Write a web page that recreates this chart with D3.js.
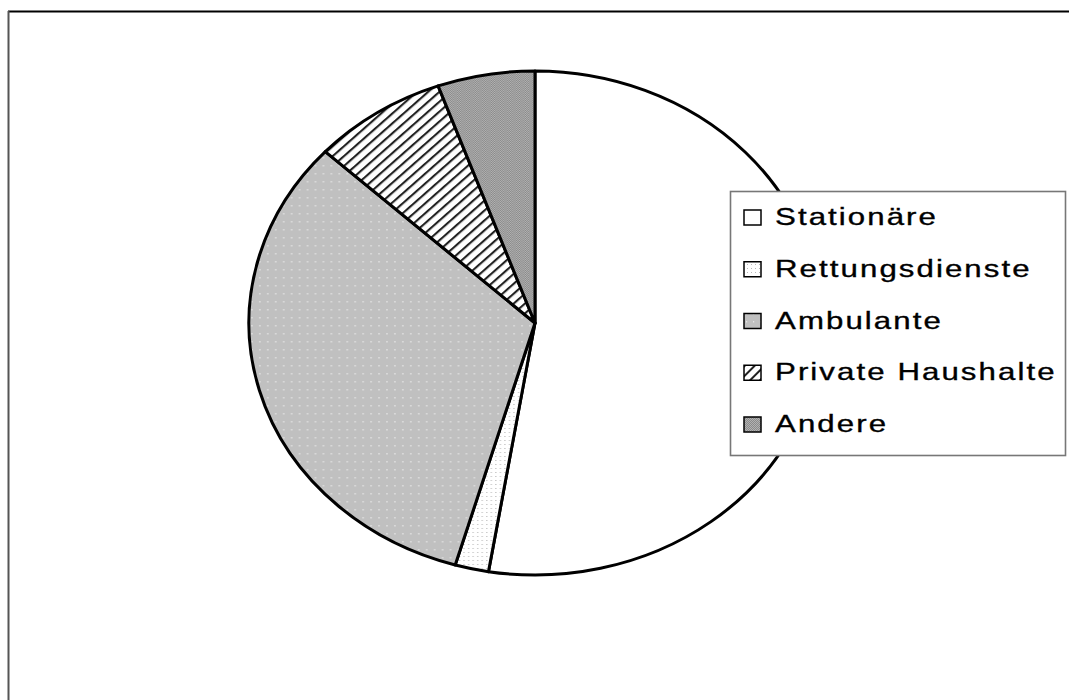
<!DOCTYPE html>
<html>
<head>
<meta charset="utf-8">
<script src="https://cdn.jsdelivr.net/npm/d3@7"></script>
<style>
  html, body { margin: 0; padding: 0; background: #fff; }
  svg { display: block; }
  text { font-family: "Liberation Sans", Arial, sans-serif; }
</style>
</head>
<body>
<script>
// Kategorien und Anteile (in Prozent)
const categories = ["Stationäre", "Rettungsdienste", "Ambulante", "Private Haushalte", "Andere"];
const shares = [52.6, 1.9, 32.4, 7.6, 5.5];
const fillIds = ["solid-white", "dots-light", "dots-gray", "hatch", "dither-dark"];

const W = 1069, H = 700;
const svg = d3.select("body").append("svg").attr("width", W).attr("height", H);
const defs = svg.append("defs");

// Füllmuster
defs.append("pattern").attr("id", "solid-white").attr("patternUnits", "userSpaceOnUse")
  .attr("width", 4).attr("height", 4)
  .append("rect").attr("width", 4).attr("height", 4).attr("fill", "#fff");

const pLight = defs.append("pattern").attr("id", "dots-light").attr("patternUnits", "userSpaceOnUse")
  .attr("width", 4).attr("height", 4);
pLight.append("rect").attr("width", 4).attr("height", 4).attr("fill", "#fff");
pLight.append("rect").attr("x", 1).attr("y", 1).attr("width", 1).attr("height", 1).attr("fill", "#b8b8b8");

const pGray = defs.append("pattern").attr("id", "dots-gray").attr("patternUnits", "userSpaceOnUse")
  .attr("width", 7).attr("height", 8);
pGray.append("rect").attr("width", 7).attr("height", 8).attr("fill", "#c0c0c0");
pGray.append("rect").attr("x", 2).attr("y", 2).attr("width", 1.2).attr("height", 1.5).attr("fill", "#e4e4e4");

const pHatch = defs.append("pattern").attr("id", "hatch").attr("patternUnits", "userSpaceOnUse")
  .attr("width", 7).attr("height", 7).attr("patternTransform", "rotate(-45)");
pHatch.append("rect").attr("width", 7).attr("height", 7).attr("fill", "#fff");
pHatch.append("rect").attr("x", 0).attr("y", 0).attr("width", 7).attr("height", 2).attr("fill", "#222");

const pDark = defs.append("pattern").attr("id", "dither-dark").attr("patternUnits", "userSpaceOnUse")
  .attr("width", 2).attr("height", 2);
pDark.append("rect").attr("width", 2).attr("height", 2).attr("fill", "#b2b2b2");
pDark.append("rect").attr("width", 1).attr("height", 1).attr("fill", "#8a8a8a");
pDark.append("rect").attr("x", 1).attr("y", 1).attr("width", 1).attr("height", 1).attr("fill", "#8a8a8a");

// Rahmen des Diagrammbereichs
svg.append("line").attr("x1", 8).attr("x2", W).attr("y1", 11.5).attr("y2", 11.5)
  .attr("stroke", "#000").attr("stroke-width", 1.8);
svg.append("line").attr("x1", 8.5).attr("x2", 8.5).attr("y1", 11).attr("y2", H)
  .attr("stroke", "#555").attr("stroke-width", 2);

// Kreisdiagramm (horizontal gestreckt)
const R = 252, sx = 1.135;
const pie = d3.pie().sort(null).value(d => d)(shares);
const arc = d3.arc().innerRadius(0).outerRadius(R);

const g = svg.append("g").attr("transform", `translate(535,323) scale(${sx},1)`);
g.selectAll("path").data(pie).join("path")
  .attr("d", arc)
  .attr("fill", (d, i) => `url(#${fillIds[i]})`)
  .attr("stroke", "#000")
  .attr("stroke-width", 3)
  .attr("stroke-linejoin", "round")
  .attr("vector-effect", "non-scaling-stroke");

// Legende
const lg = svg.append("g").attr("transform", "translate(730,191)");
lg.append("rect").attr("x", 0.5).attr("y", 0.5).attr("width", 335).attr("height", 264)
  .attr("fill", "#fff").attr("stroke", "#777").attr("stroke-width", 1.6);

const row = d3.scalePoint().domain(categories).range([34, 241]);
const items = lg.selectAll("g.item").data(categories).join("g").attr("class", "item");
items.append("rect")
  .attr("x", 14).attr("y", d => row(d) - 15)
  .attr("width", 17).attr("height", 15)
  .attr("fill", (d, i) => `url(#${fillIds[i]})`)
  .attr("stroke", "#000").attr("stroke-width", 1.5);
items.append("text")
  .attr("transform", d => `translate(45,${row(d)}) scale(1.3,1)`)
  .attr("font-size", 24)
  .attr("letter-spacing", 1.6)
  .attr("fill", "#000")
  .attr("stroke", "#000")
  .attr("stroke-width", 0.35)
  .text(d => d);
</script>
</body>
</html>
